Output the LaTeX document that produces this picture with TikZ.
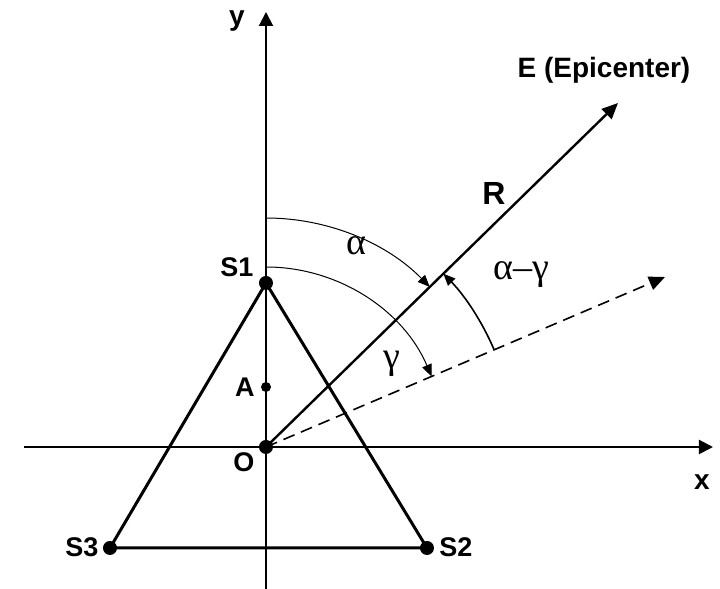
\documentclass[tikz,border=0pt]{standalone}
\usepackage{fontspec}
\setmainfont{Liberation Sans}
\newfontfamily\grkfont{Liberation Serif}
\usetikzlibrary{arrows.meta}
\newcommand{\lbl}{\fontsize{14}{16}\selectfont\bfseries}
\newcommand{\stn}{\fontsize{13.5}{15}\selectfont\bfseries}
\newcommand{\grk}{\fontsize{19}{21}\selectfont\grkfont}
\tikzset{
  axis/.style={line width=1pt,-{Triangle[length=7,width=7]}},
  side/.style={line width=1.5pt},
  dot/.style={circle,fill=black,inner sep=0,minimum size=7pt},
  angarc/.style={line width=0.5pt,-{Triangle[length=6,width=5]}},
  tag/.style={inner sep=0,anchor=base,font=\lbl},
  stntag/.style={inner sep=0,anchor=base,font=\stn},
  grk/.style={inner sep=0,anchor=base,font=\grk}
}

\begin{document}
\begin{tikzpicture}[x=0.5pt,y=0.5pt]
\useasboundingbox (-266,-142) rectangle (454,447);
% axes
\coordinate (xl) at (-242,0);
\coordinate (xr) at (447,0);
\coordinate (yb) at (0,-142);
\coordinate (yt) at (0,435);
\draw[axis] (xl) -- (xr);
\draw[axis] (yb) -- (yt);
\node[tag] (xlab) at (436,-43) {x};
\node[tag] (ylab) at (-29,421) {y};
% stations
\node[dot] (O) at (0,0) {};
\node[dot] (S1) at (0,164) {};
\node[dot,minimum size=5pt] (A) at (0,60) {};
\node[dot] (S2) at (161,-101) {};
\node[dot] (S3) at (-156,-101) {};
\draw[side] (S1.center) -- (S2.center) -- (S3.center) -- cycle;
\node[stntag] (S1lab) at (-29,170) {S1};
\node[stntag] (Alab) at (-21,50) {A};
\node[stntag] (Olab) at (-22,-25) {O};
\node[stntag] (S2lab) at (190,-110) {S2};
\node[stntag] (S3lab) at (-184,-110) {S3};
% epicenter and its direction
\coordinate (E) at (352,344);
\coordinate (G) at (399,170);
\draw[line width=1.2pt,-{Triangle[length=8,width=7]}] (O.center) -- (E);
\draw[line width=0.8pt,dash pattern=on 6pt off 3.5pt,-{Triangle[length=8,width=7]}] (O.center) -- (G);
\node[tag] (Elab) at (338,369) {E (Epicenter)};
\node[tag,font=\fontsize{16}{18}\selectfont\bfseries] (Rlab) at (228,242) {R};
% angles
\draw[angarc] (0,229) arc[start angle=90,end angle=44.35,radius=229];
\draw[angarc] (0,180) arc[start angle=90,end angle=23.08,radius=180];
\draw[angarc,line width=0.8pt] (23.08:248) arc[start angle=23.08,end angle=44.35,radius=248];
\node[grk] (alab) at (90,192) {α};
\node[grk] (glab) at (126,78) {γ};
\node[grk] (aglab) at (255,167) {α–γ};
\end{tikzpicture}
\end{document}
